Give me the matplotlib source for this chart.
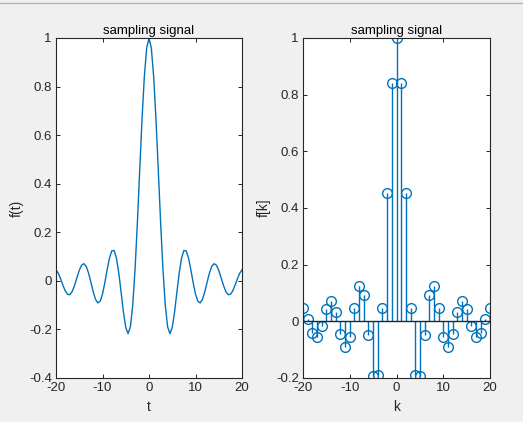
import matplotlib
matplotlib.use("Agg")
import matplotlib.pyplot as plt

plt.rcParams['font.family'] = ['Liberation Sans', 'DejaVu Sans']

# continuous signal f(t), read at 0.5 steps
t = [-20.0, -19.5, -19.0, -18.5, -18.0, -17.5, -17.0, -16.5, -16.0, -15.5,
     -15.0, -14.5, -14.0, -13.5, -13.0, -12.5, -12.0, -11.5, -11.0, -10.5,
     -10.0, -9.5, -9.0, -8.5, -8.0, -7.5, -7.0, -6.5, -6.0, -5.5,
     -5.0, -4.5, -4.0, -3.5, -3.0, -2.5, -2.0, -1.5, -1.0, -0.5,
     0.0, 0.5, 1.0, 1.5, 2.0, 2.5, 3.0, 3.5, 4.0, 4.5,
     5.0, 5.5, 6.0, 6.5, 7.0, 7.5, 8.0, 8.5, 9.0, 9.5,
     10.0, 10.5, 11.0, 11.5, 12.0, 12.5, 13.0, 13.5, 14.0, 14.5,
     15.0, 15.5, 16.0, 16.5, 17.0, 17.5, 18.0, 18.5, 19.0, 19.5, 20.0]
ft = [0.0456, 0.0311, 0.0079, -0.0185, -0.0417, -0.0558, -0.0566, -0.0432, -0.0180, 0.0133,
      0.0434, 0.0645, 0.0708, 0.0595, 0.0323, -0.0053, -0.0447, -0.0761, -0.0909, -0.0838,
      -0.0544, -0.0079, 0.0458, 0.0939, 0.1237, 0.1251, 0.0939, 0.0331, -0.0466, -0.1283,
      -0.1918, -0.2172, -0.1892, -0.1002, 0.0470, 0.2394, 0.4546, 0.6650, 0.8415, 0.9589,
      1.0,
      0.9589, 0.8415, 0.6650, 0.4546, 0.2394, 0.0470, -0.1002, -0.1892, -0.2172,
      -0.1918, -0.1283, -0.0466, 0.0331, 0.0939, 0.1251, 0.1237, 0.0939, 0.0458, -0.0079,
      -0.0544, -0.0838, -0.0909, -0.0761, -0.0447, -0.0053, 0.0323, 0.0595, 0.0708, 0.0645,
      0.0434, 0.0133, -0.0180, -0.0432, -0.0566, -0.0558, -0.0417, -0.0185, 0.0079, 0.0311, 0.0456]

# sampled signal f[k]
k = list(range(-20, 21))
fk = [0.0456, 0.0079, -0.0417, -0.0566, -0.0180, 0.0434, 0.0708, 0.0323, -0.0447, -0.0909,
      -0.0544, 0.0458, 0.1237, 0.0939, -0.0466, -0.1918, -0.1892, 0.0470, 0.4546, 0.8415,
      1.0,
      0.8415, 0.4546, 0.0470, -0.1892, -0.1918, -0.0466, 0.0939, 0.1237, 0.0458, -0.0544,
      -0.0909, -0.0447, 0.0323, 0.0708, 0.0434, -0.0180, -0.0566, -0.0417, 0.0079, 0.0456]

blue = '#0072BD'
dark = '#262626'
W, H = 523, 422

fig = plt.figure(figsize=(W / 100, H / 100), dpi=100)
fig.patch.set_facecolor('#f0f0f0')
fig.add_artist(plt.Line2D([0, 1], [1 - 3 / H, 1 - 3 / H], color='#b4b4b4', lw=1))

ax1 = fig.add_axes([56 / W, 1 - 378 / H, 186 / W, 340 / H])
ax2 = fig.add_axes([303 / W, 1 - 378 / H, 187 / W, 340 / H])

ax1.plot(t, ft, color=blue, lw=1)
ax1.set_xlim(-20, 20)
ax1.set_ylim(-0.4, 1)
ax1.set_yticks([-0.4, -0.2, 0, 0.2, 0.4, 0.6, 0.8, 1])
ax1.set_yticklabels(['-0.4', '-0.2', '0', '0.2', '0.4', '0.6', '0.8', '1'])
ax1.set_xlabel('t')
ax1.set_ylabel('f(t)')

ml, sl, bl = ax2.stem(k, fk, linefmt='-', markerfmt='o', basefmt='-')
plt.setp(sl, color=blue, lw=1)
plt.setp(ml, markerfacecolor='none', markeredgecolor=blue, markersize=7, markeredgewidth=1)
plt.setp(bl, color=dark, lw=1)
ax2.set_xlim(-20, 20)
ax2.set_ylim(-0.2, 1)
ax2.set_yticks([-0.2, 0, 0.2, 0.4, 0.6, 0.8, 1])
ax2.set_yticklabels(['-0.2', '0', '0.2', '0.4', '0.6', '0.8', '1'])
ax2.set_xlabel('k')
ax2.set_ylabel('f[k]')

for ax in (ax1, ax2):
    ax.set_xticks([-20, -10, 0, 10, 20])
    ax.set_xticklabels(['-20', '-10', '0', '10', '20'])
    ax.set_title('sampling signal', fontsize=9.5, color='black', pad=3)
    ax.tick_params(direction='in', top=True, right=True, length=3, width=0.7,
                   colors=dark, labelsize=9.5, pad=3)
    ax.xaxis.label.set_fontsize(10)
    ax.yaxis.label.set_fontsize(10)
    ax.xaxis.label.set_color(dark)
    ax.yaxis.label.set_color(dark)
    for s in ax.spines.values():
        s.set_color(dark)
        s.set_linewidth(0.8)

fig.savefig('out.png', dpi=100, facecolor=fig.get_facecolor())
